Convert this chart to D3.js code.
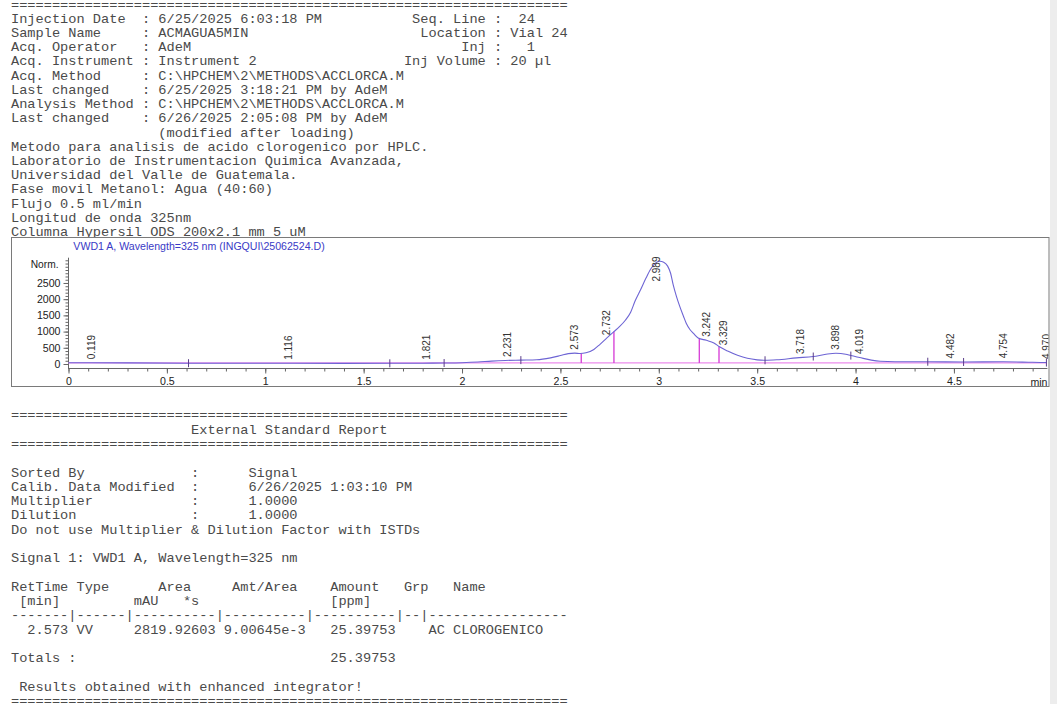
<!DOCTYPE html>
<html>
<head>
<meta charset="utf-8">
<script src="https://cdn.jsdelivr.net/npm/d3@7"></script>
<style>
  html, body { margin: 0; padding: 0; background: #fff; overflow: hidden; }
  svg { display: block; }
  .mono { font-family: "Courier New", "Liberation Mono", monospace; font-size: 13.65px; fill: #4a4a4a; white-space: pre; }
  .sans { font-family: Arial, "Liberation Sans", sans-serif; }
</style>
</head>
<body>
<svg id="page" width="1057" height="704"></svg>
<script>
// ---------- report header ----------
const RULE = "=".repeat(68);
const pad = (s, n) => s + " ".repeat(Math.max(0, n - s.length));

const headerLeft = [
  "Injection Date  : 6/25/2025 6:03:18 PM",
  "Sample Name     : ACMAGUA5MIN",
  "Acq. Operator   : AdeM",
  "Acq. Instrument : Instrument 2"
];
const headerRight = [
  "Seq. Line :  24",
  "Location : Vial 24",
  "Inj :   1",
  "Inj Volume : 20 µl"
];
const headerMore = [
  "Acq. Method     : C:\\HPCHEM\\2\\METHODS\\ACCLORCA.M",
  "Last changed    : 6/25/2025 3:18:21 PM by AdeM",
  "Analysis Method : C:\\HPCHEM\\2\\METHODS\\ACCLORCA.M",
  "Last changed    : 6/26/2025 2:05:08 PM by AdeM",
  "                  (modified after loading)",
  "Metodo para analisis de acido clorogenico por HPLC.",
  "Laboratorio de Instrumentacion Quimica Avanzada,",
  "Universidad del Valle de Guatemala.",
  "Fase movil Metanol: Agua (40:60)",
  "Flujo 0.5 ml/min",
  "Longitud de onda 325nm",
  "Columna Hypersil ODS 200x2.1 mm 5 uM"
];

// ---------- chromatogram (VWD1 A, 325 nm) ----------
const signalTitle = "VWD1 A, Wavelength=325 nm (INGQUI\\25062524.D)";
const traceTime = [0.00, 0.10, 0.30, 0.60, 1.00, 1.40, 1.63, 1.80, 1.91, 2.00, 2.08, 2.15, 2.22, 2.30, 2.38,
  2.45, 2.50, 2.54, 2.573, 2.60, 2.63, 2.67, 2.70, 2.735, 2.772, 2.80, 2.83, 2.857, 2.88, 2.908, 2.935,
  2.959, 2.98, 3.005, 3.025, 3.045, 3.06, 3.073, 3.09, 3.107, 3.125, 3.14, 3.16, 3.175, 3.20, 3.242,
  3.28, 3.306, 3.35, 3.40, 3.45, 3.50, 3.54, 3.60, 3.70, 3.785, 3.85, 3.90, 3.95, 3.976, 4.02, 4.08,
  4.125, 4.20, 4.367, 4.549, 4.75, 4.90, 4.97];
const traceSignal = [40, 38, 35, 25, 22, 20, 22, 25, 30, 40, 60, 90, 110, 120, 130,
  190, 260, 320, 335, 322, 345, 450, 600, 800, 1000, 1150, 1350, 1600, 1950, 2300, 2650,
  2930, 3100, 3170, 3140, 3020, 2800, 2450, 2080, 1770, 1480, 1250, 1050, 950, 800, 730,
  650, 540, 400, 270, 175, 128, 115, 130, 190, 230, 300, 330, 300, 260, 200, 120,
  85, 70, 70, 62, 68, 52, 45];
const baselineTime = [0.00, 4.97];
const baselineSignal = [32, 32];
const peakRT = [0.119, 1.116, 1.821, 2.231, 2.573, 2.732, 2.989, 3.242, 3.329, 3.718, 3.898, 4.019, 4.482, 4.754, 4.970];
const dropLineTimes = [2.606, 2.772, 3.206, 3.306];
const eventTickTimes = [0.61, 1.633, 1.909, 2.299, 3.54, 3.785, 3.976, 4.367, 4.549, 4.97];
const yTickValues = [0, 500, 1000, 1500, 2000, 2500];
const xTickValues = [0, 0.5, 1, 1.5, 2, 2.5, 3, 3.5, 4, 4.5];

// ---------- external standard report ----------
const reportSetup = [
  ["Sorted By", "Signal"],
  ["Calib. Data Modified", "6/26/2025 1:03:10 PM"],
  ["Multiplier", "1.0000"],
  ["Dilution", "1.0000"]
];
const resultRetTime = ["2.573"];
const resultType = ["VV"];
const resultArea = ["2819.92603"];
const resultAmtArea = ["9.00645e-3"];
const resultAmount = ["25.39753"];
const resultName = ["AC CLOROGENICO"];
const totalAmount = "25.39753";

const svg = d3.select("#page");
svg.append("rect").attr("width", 1057).attr("height", 704).attr("fill", "#fff");

// side strip
svg.append("rect").attr("x", 1050).attr("y", 0).attr("width", 7).attr("height", 704).attr("fill", "#ededed");

// ---------- header text ----------
const TX = 11;
const headerText = [RULE]
  .concat(headerLeft.map((s, i) => pad(s, 59 - headerRight[i].indexOf(":")) + headerRight[i]))
  .concat(headerMore);
svg.append("g").selectAll("text").data(headerText).join("text")
  .attr("class", "mono")
  .attr("x", TX)
  .attr("y", (d, i) => 8.6 + 14.22 * i)
  .text(d => d);

// ---------- report text ----------
const reportText = [
  RULE,
  " ".repeat(22) + "External Standard Report",
  RULE,
  "",
  ...reportSetup.map(r => pad(r[0], 22) + ":      " + r[1]),
  "Do not use Multiplier & Dilution Factor with ISTDs",
  "",
  "Signal 1: VWD1 A, Wavelength=325 nm",
  "",
  pad(pad(pad(pad(pad("RetTime Type", 18) + "Area", 27) + "Amt/Area", 39) + "Amount", 48) + "Grp", 54) + "Name",
  pad(pad(pad(" [min]", 15) + "mAU", 21) + "*s", 39) + "[ppm]",
  "-------|------|----------|----------|----------|--|-----------------",
  ...resultRetTime.map((rt, i) =>
    rt.padStart(7) + " " + pad(resultType[i], 7) + resultArea[i].padStart(10) + " " +
    resultAmtArea[i].padStart(10) + " " + resultAmount[i].padStart(10) + "    " + resultName[i]),
  "",
  pad("Totals :", 39) + totalAmount,
  "",
  " Results obtained with enhanced integrator!",
  RULE
];
svg.append("g").selectAll("text").data(reportText).join("text")
  .attr("class", "mono")
  .attr("x", TX)
  .attr("y", (d, i) => 419.4 + 14.28 * i)
  .text(d => d);

// ---------- chromatogram panel ----------
const box = { x: 11.5, y: 237.5, w: 1037.5, h: 149 };
svg.append("rect").attr("x", box.x).attr("y", box.y).attr("width", box.w).attr("height", box.h)
  .attr("fill", "#fff").attr("stroke", "#7a7a7a").attr("stroke-width", 1);

svg.append("text").attr("class", "sans")
  .attr("x", 199).attr("y", 249.8).attr("text-anchor", "middle")
  .attr("font-size", "10.6px").attr("fill", "#3a3ac6")
  .text(signalTitle);

const x = d3.scaleLinear().domain([0, 4.975]).range([68.5, 1047.4]);
const y = d3.scaleLinear().domain([0, 3280]).range([364, 257.7]);
const axisColor = "#666";

// y axis: minor and major ticks
const gy = svg.append("g").attr("transform", "translate(68.5,0)");
gy.call(d3.axisLeft(y).tickValues(d3.range(0, 3281, 100)).tickSize(3).tickFormat(""));
gy.append("g").call(d3.axisLeft(y).tickValues(yTickValues).tickSize(5).tickSizeOuter(0)
  .tickPadding(3).tickFormat(d3.format("d")));
gy.selectAll(".domain").remove();
gy.selectAll("line").attr("stroke", axisColor);
gy.selectAll("text").attr("font-family", "Arial, 'Liberation Sans', sans-serif")
  .attr("font-size", "10.6px").attr("fill", "#222");
svg.append("line").attr("x1", 68.5).attr("x2", 68.5).attr("y1", 257.7).attr("y2", 369)
  .attr("stroke", axisColor);
svg.append("text").attr("class", "sans").attr("x", 58.5).attr("y", 267.5)
  .attr("text-anchor", "end").attr("font-size", "10.2px").attr("fill", "#222").text("Norm.");

// x axis
const gx = svg.append("g").attr("transform", "translate(0,368.5)");
gx.call(d3.axisBottom(x).tickValues(d3.range(0, 4.95, 0.1)).tickSize(3).tickFormat(""));
gx.append("g").call(d3.axisBottom(x).tickValues(xTickValues).tickSize(5).tickSizeOuter(0)
  .tickPadding(4).tickFormat(d3.format("")));
gx.selectAll(".domain").remove();
gx.selectAll("line").attr("stroke", axisColor);
gx.selectAll("text").attr("font-family", "Arial, 'Liberation Sans', sans-serif")
  .attr("font-size", "10.6px").attr("fill", "#222");
svg.append("line").attr("x1", 68.5).attr("x2", 1047.4).attr("y1", 368.5).attr("y2", 368.5)
  .attr("stroke", axisColor);
svg.append("text").attr("class", "sans").attr("x", 1047.5).attr("y", 385.5)
  .attr("text-anchor", "end").attr("font-size", "10.6px").attr("fill", "#222").text("min");

// plot content clipped to the panel
svg.append("clipPath").attr("id", "plotClip").append("rect")
  .attr("x", box.x).attr("y", box.y + 0.5).attr("width", box.w - 0.5).attr("height", box.h - 1);
const plot = svg.append("g").attr("clip-path", "url(#plotClip)");

const trace = traceTime.map((t, i) => [t, traceSignal[i]]);
const signalAt = t => {
  const i = d3.bisector(d => d[0]).right(trace, t);
  if (i <= 0) return trace[0][1];
  if (i >= trace.length) return trace[trace.length - 1][1];
  const a = trace[i - 1], b = trace[i];
  return a[1] + (b[1] - a[1]) * (t - a[0]) / (b[0] - a[0]);
};

// integration baseline
plot.append("path")
  .datum(baselineTime.map((t, i) => [t, baselineSignal[i]]))
  .attr("fill", "none").attr("stroke", "#ec8cec").attr("stroke-width", 1.2)
  .attr("d", d3.line().x(d => x(d[0])).y(d => y(d[1])));

// drop lines at peak boundaries
plot.selectAll(".drop").data(dropLineTimes).join("line")
  .attr("x1", d => x(d)).attr("x2", d => x(d))
  .attr("y1", y(baselineSignal[0])).attr("y2", d => y(signalAt(d)))
  .attr("stroke", "#d846d8").attr("stroke-width", 1.4);

// signal trace
plot.append("path").datum(trace)
  .attr("fill", "none").attr("stroke", "#6d64d4").attr("stroke-width", 1.1)
  .attr("d", d3.line().x(d => x(d[0])).y(d => y(d[1])).curve(d3.curveMonotoneX));

// peak start/end event ticks
plot.selectAll(".evt").data(eventTickTimes).join("line")
  .attr("x1", d => x(d)).attr("x2", d => x(d))
  .attr("y1", d => y(signalAt(d)) - 4).attr("y2", d => y(signalAt(d)) + 4)
  .attr("stroke", "#5a3d8a").attr("stroke-width", 1);

// retention time labels, kept inside the top of the panel
const labels = plot.selectAll(".rt").data(peakRT).join("text")
  .attr("class", "sans")
  .attr("font-size", "10px").attr("fill", "#333")
  .attr("dy", "0.35em")
  .text(d => d.toFixed(3));
labels.each(function (d) {
  const len = this.getComputedTextLength();
  const start = Math.max(y(signalAt(d)) - 3.5, 256.5 + len);
  d3.select(this).attr("transform", `translate(${x(d)},${start}) rotate(-90)`);
});
</script>
</body>
</html>
